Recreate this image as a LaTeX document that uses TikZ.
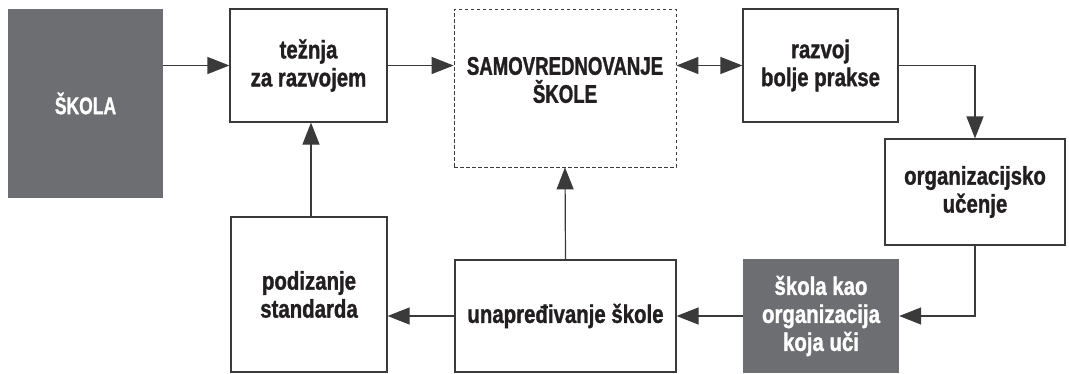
\documentclass[tikz,border=0pt]{standalone}
\usepackage{fontspec}
\setmainfont{Liberation Sans}[FakeStretch=0.80, BoldFeatures={FakeBold=1.2}]
\newfontfamily\capsfont{Liberation Sans}[FakeStretch=0.73, BoldFeatures={FakeBold=1.2}]
\usetikzlibrary{arrows.meta}
\definecolor{boxgray}{HTML}{6D6E71}
\definecolor{linegray}{HTML}{3A3A3A}
\definecolor{txtblack}{HTML}{231F20}
\tikzset{
  base/.style={rectangle, inner sep=0pt, align=center, font=\fontsize{25.5}{28}\selectfont\bfseries},
  wbox/.style={base, draw=linegray, line width=1.2pt, fill=white, text=txtblack},
  gbox/.style={base, fill=boxgray, text=white},
  dbox/.style={rectangle, inner sep=0pt, draw=linegray, line width=0.8pt, dash pattern=on 3.5pt off 2.5pt},
  txtonly/.style={base, text=txtblack},
  conn/.style={draw=linegray, line width=1.2pt},
  arr/.style={conn, -{Triangle[length=22pt,width=17pt]}},
  darr/.style={conn, {Triangle[length=22pt,width=17pt]}-{Triangle[length=22pt,width=17pt]}},
}
\begin{document}
\begin{tikzpicture}[x=1pt,y=-1pt]
\useasboundingbox[fill=white] (0,0) rectangle (1069,373);
\node[gbox, minimum width=155pt, minimum height=189pt, font=\capsfont\fontsize{24}{28}\selectfont\bfseries] (skola) at (85.5,103.5) {ŠKOLA};
\node[wbox, minimum width=157pt, minimum height=113pt] (teznja) at (308.5,65.5) {težnja\\za razvojem};
\node[dbox, minimum width=222pt, minimum height=158pt] (samo) at (565,88) {};
\node[txtonly, font=\capsfont\fontsize{25.5}{28}\selectfont\bfseries] (samotxt) at ([yshift=8pt]samo.center) {SAMOVREDNOVANJE\\ŠKOLE};
\node[wbox, minimum width=155pt, minimum height=113pt] (razvoj) at (820.5,65.5) {razvoj\\bolje prakse};
\node[wbox, minimum width=180pt, minimum height=106pt] (org) at (975,192) {organizacijsko\\učenje};
\node[wbox, minimum width=156pt, minimum height=155pt] (podiz) at (309,294.5) {podizanje\\standarda};
\node[wbox, minimum width=221pt, minimum height=112pt] (unap) at (565.5,316) {unapređivanje škole};
\node[gbox, minimum width=156pt, minimum height=114pt] (skolakao) at (821,316) {škola kao\\organizacija\\koja uči};

\draw[arr] (skola.east |- teznja.west) -- (teznja.west);
\draw[arr] (teznja.east) -- (teznja.east -| samo.west);
\draw[darr] (razvoj.west -| samo.east) -- (razvoj.west);
\draw[arr] (razvoj.east) -| (org.north);
\draw[arr] (org.south) |- (skolakao.east);
\draw[arr] (skolakao.west) -- (unap.east);
\draw[arr] (unap.west) -- (unap.west -| podiz.east);
\draw[arr] (unap.north) -- (samo.south);
\draw[arr] ([xshift=2pt]podiz.north) -- ([xshift=2pt]podiz.north |- teznja.south);
\end{tikzpicture}
\end{document}
